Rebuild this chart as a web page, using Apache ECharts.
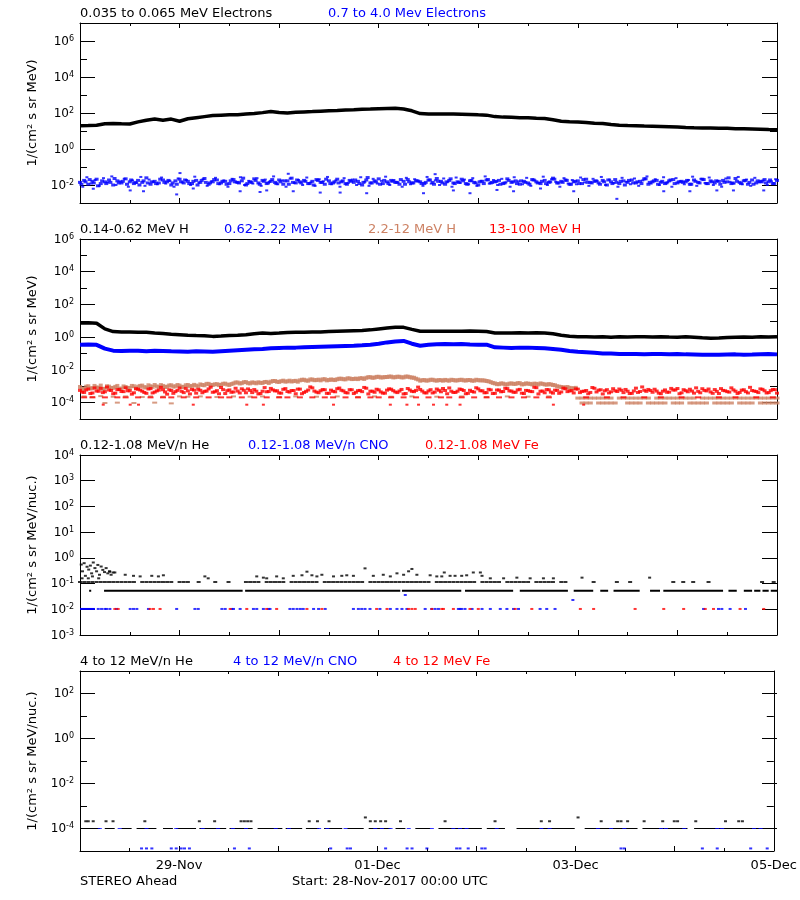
<!DOCTYPE html>
<html><head><meta charset="utf-8">
<script src="https://cdn.jsdelivr.net/npm/echarts@6/dist/echarts.min.js"></script>
<style>html,body{margin:0;padding:0;background:#fff}#c{width:800px;height:900px}</style>
</head><body><div id="c"></div>
<script>
// ---------- DATA (hours since 28-Nov-2017 00:00 UTC) ----------
const xTickLabels = {24:'29-Nov', 72:'01-Dec', 120:'03-Dec', 168:'05-Dec'};

// Panel 1: electrons (2-hourly low-energy band)
const elecLow2h = [19.5,20,21,25,26,25,24.5,32,40,46,40,46,35,48,55,63,72,76,79,81,87,93,105,120,107,100,110,115,120,126,132,138,145,151,162,166,174,178,182,166,132,93,89,87,89,87,85,83,79,76,63,59,58,55,54,51,49,42,35,33,32,30,27,26,23,21,20,19.5,19,18.6,18,17.4,16.6,15.8,15.1,14.8,14.5,14.1,14.1,13.5,13.2,12.9,12.6,12,11.7];
// 0.7-4.0 MeV electrons, hourly scatter
const elecHighA = [.014,.018,.011,.016,.021,.012,.015,.019,.010,.017,.013,.022,.015,.012,.018,.014,.025,.011,.016,.013,.019,.015,.010,.017,.021,.013,.016,.012,.018,.014,.023,.011,.015,.019,.013,.016,.012,.020,.014,.017,.010,.015,.022,.013,.018,.012,.016,.014,.019,.011,.017,.024,.013,.015,.018,.012,.016,.020,.014,.011,.017,.013,.021,.015,.012,.018,.014,.016,.010,.019,.013,.017,.022,.012,.015,.018,.014,.011,.016,.020,.013,.017,.015,.012,.019,.014,.023,.016,.011,.018,.013,.015,.021,.012,.017,.014,.010,.016,.019,.013,.015,.018,.012,.022,.014,.017,.011,.016,.013,.020,.015,.012,.018,.014,.024,.013,.016,.019,.011,.015,.017,.012,.021,.014,.016,.013,.018,.010,.015,.020,.012,.017,.014,.019,.013,.016,.022,.011,.015,.018,.014,.012,.017,.020,.013,.016,.015,.011,.019,.014,.021,.012,.017,.013,.016,.018,.015,.012,.023,.014,.017,.011,.019,.013,.016,.020,.015,.012,.018,.014];
const elecHighB = [.011,.015,.020,.013,.009,.017,.012,.014,.023,.013,.016,.011,.019,.014,.010,.017,.013,.015,.012,.021,.014,.018,.013,.011,.015,.019,.012,.016,.010,.018,.014,.013,.020,.012,.016,.011,.017,.015,.013,.024,.012,.014,.018,.011,.016,.013,.020,.012,.015,.017,.011,.014,.019,.013,.016,.012,.010,.018,.014,.021,.012,.015,.013,.017,.011,.016,.019,.012,.014,.026,.013,.015,.011,.018,.012,.016,.014,.020,.011,.015,.013,.017,.012,.014,.019,.011,.016,.013,.015,.022,.012,.014,.017,.011,.018,.013,.015,.012,.020,.014,.016,.011,.013,.018,.015,.012,.017,.014,.011,.019,.013,.016,.012,.015,.021,.013,.014,.018,.011,.016,.012,.020,.014,.013,.017,.011,.015,.019,.012,.014,.016,.010,.018,.013,.015,.012,.022,.014,.017,.011,.016,.013,.019,.012,.015,.014,.018,.011,.016,.013,.020,.012,.015,.017,.011,.014,.025,.013,.016,.012,.018,.014,.011,.017,.015,.013,.019,.012,.016];
const elecHighC = [.008,.027,.012,.019,.009,.024,.014,.030,.010,.016,.022,.008,.018,.013,.028,.009,.020,.015,.011,.026,.012,.017,.008,.023,.014,.019,.010,.029,.013,.021,.009,.016,.025,.011,.018,.008,.022,.014,.027,.010,.017,.012,.024,.009,.020,.015,.030,.011,.018,.008,.023,.013,.019,.010,.026,.014,.009,.021,.016,.028,.011,.018,.008,.024,.013,.020,.010,.027,.015,.009,.022,.012,.017,.029,.010,.019,.014,.008,.025,.011,.021,.016,.009,.028,.012,.018,.010,.023,.015,.008,.026,.013,.020,.011,.024,.009,.017,.030,.012,.019,.010,.022,.014,.008,.027,.016,.011,.025,.009,.018,.013,.029,.010,.021,.015,.008,.024,.012,.019,.011,.026,.014,.009,.022,.017,.028,.010,.020,.013,.008,.025,.015,.011,.023,.009,.018,.030,.012,.021,.010,.027,.014,.008,.024,.016,.011,.019,.029,.009,.022,.013,.026,.010,.017,.008,.023,.015,.012,.028,.011,.020,.009,.025,.014,.018,.010,.016,.021];
const elecHighOut = [[3.2,.0062],[12.1,.005],[15.3,.0045],[23.3,.003],[27.3,.0064],[38.6,.0045],[43.4,.0041],[45,.005],[51.4,.0045],[57.9,.0038],[62.7,.0038],[69.1,.0035],[82.8,.0035],[90,.005],[94,.0035],[100.5,.0053],[104.5,.0045],[111,.0064],[119,.0045],[129.4,.0017],[140.7,.0045],[147,.0045],[153.5,.005],[157.5,.005],[164.8,.005],[24.1,.046],[50.2,.042],[85.6,.04]];

// Panel 2: protons
const protLow2h = [7.4,7.6,7.1,3.2,2.2,2.1,2.1,2.0,2.0,1.8,1.66,1.5,1.4,1.3,1.26,1.23,1.12,1.17,1.26,1.3,1.4,1.6,1.8,1.7,1.8,1.95,2.0,2.0,2.1,2.1,2.2,2.3,2.4,2.5,2.6,2.8,3.2,3.6,4.0,4.0,3.0,2.3,2.3,2.3,2.3,2.3,2.3,2.35,2.3,2.2,1.8,1.8,1.8,1.85,1.8,1.85,1.8,1.6,1.3,1.15,1.07,1.05,1.02,1.05,1.0,1.05,1.02,1.07,1.05,1.02,1.05,1.02,1.0,1.05,1.0,0.93,0.87,0.89,0.95,1.0,1.02,1.0,1.05,1.02,1.07];
const protMid2h = [0.35,0.36,0.34,0.20,0.15,0.145,0.148,0.15,0.14,0.148,0.145,0.138,0.135,0.13,0.138,0.135,0.13,0.14,0.15,0.16,0.17,0.18,0.19,0.21,0.22,0.23,0.23,0.24,0.25,0.26,0.27,0.28,0.29,0.30,0.32,0.35,0.40,0.48,0.55,0.59,0.40,0.30,0.34,0.37,0.38,0.37,0.38,0.36,0.35,0.35,0.24,0.23,0.22,0.23,0.23,0.22,0.21,0.19,0.17,0.145,0.13,0.12,0.11,0.10,0.10,0.095,0.093,0.095,0.091,0.093,0.095,0.091,0.093,0.089,0.087,0.085,0.083,0.085,0.087,0.089,0.085,0.087,0.091,0.093,0.089];
// 2.2-12 MeV H band (hourly, h0-119)
const protBrownA = [0.9e-3,0.7e-3,1.0e-3,0.75e-3,0.85e-3,1.1e-3,0.7e-3,0.95e-3,0.8e-3,1.05e-3,0.72e-3,0.9e-3,0.78e-3,1.0e-3,0.95e-3,1.1e-3,0.85e-3,1.0e-3,1.2e-3,0.9e-3,1.05e-3,0.95e-3,1.15e-3,1.0e-3,1.1e-3,0.92e-3,1.2e-3,1.05e-3,1.1e-3,1.3e-3,1.15e-3,1.4e-3,1.2e-3,1.35e-3,1.25e-3,1.45e-3,1.2e-3,1.5e-3,1.7e-3,1.55e-3,1.8e-3,1.5e-3,1.65e-3,1.75e-3,1.6e-3,1.85e-3,1.9e-3,2.1e-3,1.85e-3,2.2e-3,2.0e-3,1.95e-3,2.15e-3,2.3e-3,2.5e-3,2.2e-3,2.6e-3,2.4e-3,2.3e-3,2.7e-3,2.45e-3,2.5e-3,2.7e-3,2.9e-3,2.65e-3,3.0e-3,2.8e-3,2.75e-3,3.1e-3,3.3e-3,3.6e-3,3.4e-3,3.8e-3,3.5e-3,3.7e-3,3.9e-3,3.6e-3,3.8e-3,3.5e-3,3.9e-3,3.4e-3,2.9e-3,2.2e-3,2.4e-3,2.3e-3,2.5e-3,2.2e-3,2.35e-3,2.45e-3,2.2e-3,2.4e-3,2.3e-3,2.5e-3,2.25e-3,2.4e-3,2.2e-3,2.35e-3,2.3e-3,2.1e-3,1.8e-3,1.5e-3,1.35e-3,1.45e-3,1.3e-3,1.5e-3,1.4e-3,1.55e-3,1.35e-3,1.45e-3,1.3e-3,1.4e-3,1.5e-3,1.3e-3,1.35e-3,1.2e-3,1.0e-3,0.9e-3,0.85e-3,0.8e-3,0.75e-3];
const protBrownB = [0.7e-3,0.95e-3,0.75e-3,1.05e-3,0.8e-3,0.68e-3,1.0e-3,0.78e-3,0.92e-3,0.7e-3,0.98e-3,0.8e-3,1.05e-3,0.75e-3,1.05e-3,0.88e-3,1.15e-3,0.92e-3,0.98e-3,1.18e-3,0.9e-3,1.12e-3,0.95e-3,1.2e-3,0.92e-3,1.15e-3,1.0e-3,1.22e-3,0.98e-3,1.2e-3,1.4e-3,1.22e-3,1.32e-3,1.18e-3,1.42e-3,1.28e-3,1.38e-3,1.7e-3,1.48e-3,1.78e-3,1.55e-3,1.72e-3,1.52e-3,1.62e-3,1.82e-3,1.58e-3,2.1e-3,1.88e-3,2.05e-3,1.92e-3,2.2e-3,2.08e-3,1.9e-3,2.5e-3,2.25e-3,2.6e-3,2.35e-3,2.55e-3,2.65e-3,2.3e-3,2.6e-3,2.4e-3,2.9e-3,2.7e-3,3.05e-3,2.75e-3,2.95e-3,3.1e-3,2.8e-3,3.6e-3,3.3e-3,3.75e-3,3.45e-3,3.65e-3,3.9e-3,3.5e-3,3.85e-3,3.5e-3,3.9e-3,3.6e-3,3.3e-3,2.6e-3,2.35e-3,2.2e-3,2.5e-3,2.3e-3,2.4e-3,2.2e-3,2.3e-3,2.5e-3,2.25e-3,2.45e-3,2.3e-3,2.4e-3,2.2e-3,2.5e-3,2.3e-3,2.25e-3,2.0e-3,1.6e-3,1.35e-3,1.5e-3,1.3e-3,1.45e-3,1.4e-3,1.55e-3,1.3e-3,1.5e-3,1.4e-3,1.45e-3,1.3e-3,1.4e-3,1.25e-3,1.3e-3,1.15e-3,0.95e-3,0.85e-3,0.9e-3,0.75e-3,0.8e-3];
const protBrownLate1Hours = [120,121,122,123,124,125,126,127,128,130,131,132,133,134,135,136,137,139,140,141,142,143,144,145,146,147,148,150,151,152,153,154,155,156,157,158,159,160,161,162,163,164,165,166,167,168];
const protBrownLate2Hours = [121,122,123,125,126,127,128,129,132,133,134,135,137,138,139,140,141,143,144,145,147,148,149,150,151,153,154,155,156,157,159,160,161,162,164,165,166,167,168];
const protBrownLow = [[1,2.4e-4],[3,2.2e-4],[5,2.5e-4],[6,9.5e-5],[8,2.3e-4],[9,1e-4],[11,2.4e-4],[13,9.5e-5],[15,2.2e-4],[17,2.4e-4],[18,1e-4],[20,2.3e-4],[22,9e-5],[24,2.4e-4],[26,2.3e-4],[29,2.4e-4],[33,2.2e-4],[37,2.4e-4],[41,2.3e-4],[44,2.4e-4],[48,2.2e-4],[52,2.4e-4],[57,2.3e-4],[62,2.4e-4],[67,2.2e-4],[71,2.4e-4],[75,2.3e-4],[80,2.4e-4],[86,2.3e-4],[92,2.4e-4],[98,2.2e-4],[103,2.4e-4],[108,2.3e-4],[113,2.4e-4]];
// 13-100 MeV H (hourly scatter)
const protRedA = [5.6e-4,4.2e-4,6.8e-4,3.9e-4,5.1e-4,7.5e-4,4.6e-4,5.9e-4,3.5e-4,6.2e-4,4.8e-4,8.1e-4,5.3e-4,4.0e-4,6.6e-4,5.0e-4,3.7e-4,7.2e-4,4.4e-4,5.8e-4,6.1e-4,3.3e-4,5.5e-4,4.7e-4,7.8e-4,4.1e-4,5.2e-4,6.4e-4,3.8e-4,5.7e-4,4.9e-4,6.9e-4,4.3e-4,5.4e-4,8.4e-4,3.6e-4,6.0e-4,4.5e-4,5.1e-4,7.0e-4,4.0e-4,5.6e-4,6.3e-4,3.4e-4,5.0e-4,4.6e-4,7.4e-4,5.2e-4,3.9e-4,6.5e-4,4.8e-4,5.5e-4,3.5e-4,6.7e-4,4.2e-4,5.9e-4,8.0e-4,4.4e-4,5.3e-4,6.1e-4,3.7e-4,4.9e-4,7.1e-4,5.7e-4,4.1e-4,6.2e-4,3.6e-4,5.4e-4,4.7e-4,7.6e-4,5.0e-4,4.3e-4,6.0e-4,3.8e-4,5.8e-4,6.6e-4,4.5e-4,5.1e-4,3.4e-4,7.3e-4,4.9e-4,5.6e-4,6.4e-4,4.0e-4,5.2e-4,3.9e-4,6.8e-4,4.6e-4,5.5e-4,7.9e-4,4.2e-4,5.0e-4,6.3e-4,3.5e-4,5.7e-4,4.4e-4,6.9e-4,5.3e-4,4.1e-4,6.0e-4,3.7e-4,5.9e-4,4.8e-4,7.2e-4,5.1e-4,4.3e-4,6.5e-4,3.6e-4,5.4e-4,4.7e-4,8.2e-4,5.0e-4,4.0e-4,6.1e-4,3.8e-4,5.6e-4,4.5e-4,7.0e-4,5.2e-4,3.9e-4,6.7e-4,4.9e-4,5.5e-4,4.2e-4,7.5e-4,5.8e-4,3.4e-4,6.2e-4,4.6e-4,5.3e-4,6.8e-4,4.1e-4,5.0e-4,3.7e-4,7.7e-4,4.8e-4,5.7e-4,6.4e-4,4.3e-4,5.1e-4,3.5e-4,6.0e-4,4.4e-4,5.9e-4,7.3e-4,4.0e-4,5.4e-4,6.6e-4,3.8e-4,4.9e-4,7.1e-4,5.2e-4,4.5e-4,6.3e-4,3.6e-4,5.6e-4,4.7e-4,8.0e-4,5.0e-4,4.2e-4,6.1e-4,3.9e-4,5.5e-4,4.8e-4,6.9e-4,5.3e-4,4.1e-4,6.4e-4,3.8e-4];
const protRedB = [4.4e-4,6.0e-4,3.6e-4,7.9e-4,5.0e-4,4.1e-4,9.0e-4,5.5e-4,3.8e-4,6.4e-4,4.7e-4,5.3e-4,3.3e-4,7.1e-4,5.9e-4,4.2e-4,6.8e-4,3.9e-4,5.2e-4,8.6e-4,4.5e-4,6.1e-4,3.7e-4,5.6e-4,4.9e-4,7.4e-4,3.4e-4,5.8e-4,6.5e-4,4.0e-4,5.1e-4,8.8e-4,4.6e-4,3.5e-4,6.2e-4,5.4e-4,4.3e-4,7.6e-4,3.9e-4,5.7e-4,6.9e-4,4.1e-4,5.0e-4,3.6e-4,8.3e-4,4.8e-4,6.0e-4,5.3e-4,3.8e-4,7.2e-4,4.4e-4,5.5e-4,6.7e-4,3.5e-4,4.9e-4,9.2e-4,5.1e-4,4.0e-4,6.3e-4,3.7e-4,5.8e-4,4.6e-4,7.8e-4,5.2e-4,3.9e-4,6.1e-4,4.3e-4,5.6e-4,8.5e-4,3.4e-4,5.0e-4,6.6e-4,4.5e-4,3.8e-4,7.0e-4,5.4e-4,4.1e-4,6.4e-4,3.6e-4,5.9e-4,4.7e-4,8.9e-4,5.1e-4,3.9e-4,6.2e-4,4.4e-4,5.7e-4,7.3e-4,3.5e-4,5.0e-4,4.2e-4,6.8e-4,5.5e-4,3.7e-4,4.8e-4,8.1e-4,5.3e-4,4.0e-4,6.5e-4,3.6e-4,5.9e-4,4.6e-4,7.5e-4,5.2e-4,4.3e-4,6.0e-4,3.8e-4,5.6e-4,4.9e-4,8.7e-4,3.4e-4,5.1e-4,6.3e-4,4.4e-4,5.8e-4,3.7e-4,7.7e-4,4.7e-4,5.4e-4,6.9e-4,4.1e-4,5.0e-4,3.5e-4,8.4e-4,4.5e-4,6.1e-4,5.3e-4,3.9e-4,7.1e-4,4.8e-4,5.7e-4,6.4e-4,3.6e-4,5.2e-4,4.2e-4,9.1e-4,4.9e-4,5.5e-4,6.6e-4,3.8e-4,5.0e-4,4.3e-4,7.4e-4,5.9e-4,3.5e-4,6.2e-4,4.6e-4,5.1e-4,8.0e-4,4.0e-4,5.6e-4,6.8e-4,3.7e-4,4.9e-4,7.2e-4,5.3e-4,4.4e-4,6.0e-4,3.6e-4,5.8e-4,4.7e-4,8.6e-4,5.1e-4,4.1e-4,6.5e-4,3.9e-4,5.4e-4,6.2e-4,4.5e-4];
const protRedDashHours = [1,3,6,9,11,14,17,20,22,25,28,31,34,36,39,42,45,48,50,53,56,59,61,64,67,70,72,75,78,81,84,87,89,92,95,98,101,104,107,110,113,122,127,131,136,140,145,149,154,158,163,167];
const protRedSparseHours = [5.6,12.1,14.1,27.3,40.2,44.2,61.1,74.8,78.8,81.6,85.2,88.4,91.6,114.1,121.4];

// Panel 3: 0.12-1.08 MeV/n ions
const heLowSegments = [[2.2,2.7],[5.8,39.2],[39.8,77.2],[77.6,91.9],[92.8,104.4],[106,117.6],[119,123.7],[125.4,127.3],[128.6,134.9],[137.4,139.8],[140.6,155],[156.3,158.3],[160,162],[162.5,164],[164.5,166],[166.5,168]];
const heMidHours = [0,1,2,3,4,5,6,7,8,9,10,11,12,13,15,16,17,18,19,20,21,22,24,25,26,28.6,32.6,35.8,40,41,42,43,45,46,47,48,49,51,52,53,54,55,56,57,59,60,61,62,63,64,65,66,67,68,70,71,72,73,74,75,76,77,78,79,80,81,82,83,84,86,87,88,89,90,91,92,93,94,95,97,98,99,100,101,103,104,105,106,107,108,110,111,112,113,114,116,117,123.8,129.4,132.6,143,145.4,147.8,151.5,164.4,167.2];
const heUpper = [[0.3,0.55],[0.6,0.3],[1.0,0.62],[1.3,0.2],[1.7,0.45],[2.1,0.35],[2.5,0.5],[2.8,0.25],[3.2,0.66],[3.6,0.4],[4.0,0.3],[4.3,0.53],[4.7,0.22],[5.1,0.46],[5.5,0.34],[5.9,0.28],[6.3,0.4],[6.7,0.25],[7.1,0.3],[7.5,0.22],[8.0,0.27],[0.5,0.16],[2.0,0.16],[3.0,0.19],[4.5,0.16],
 [7.2,0.29],[8.4,0.27],[10.9,0.22],[12.9,0.2],[14.5,0.19],[17.3,0.2],[18.9,0.19],[20.1,0.21],[30.1,0.19],[30.9,0.16],[42.6,0.19],[44.2,0.17],[45,0.16],[47.4,0.19],[49,0.16],[51.4,0.2],[53.5,0.21],[54.7,0.29],[55.9,0.21],[57.1,0.19],[58.3,0.22],[61.1,0.19],[63.1,0.2],[64.3,0.21],[65.9,0.2],[68.7,0.39],[70.7,0.2],[73.1,0.22],[74.8,0.19],[76.4,0.25],
 [78,0.22],[79.2,0.3],[80,0.37],[81.2,0.22],[84.4,0.21],[86,0.19],[87.2,0.19],[87.8,0.27],[89.2,0.2],[90.4,0.2],[92,0.2],[93.2,0.21],[94.8,0.27],[96.5,0.27],[96.9,0.2],[98.9,0.16],[102.1,0.16],[105.3,0.17],[108.5,0.16],[111.7,0.16],[114.1,0.16],[121,0.17],[137.3,0.17]];
const cnoLowHours = [4.4,5.2,6.0,6.4,7.2,8.8,12.1,12.9,13.7,16.5,23.3,27.7,28.5,34.2,35.0,36.6,37.0,38.6,41.8,42.6,44.2,45.4,45.8,50.6,51.4,52.3,53.1,53.8,56.3,57.5,59.1,65.9,67.1,67.9,68.7,69.9,72.3,74.8,76.4,77.6,78.8,83.2,84.8,85.6,86.4,91.2,91.6,92.0,92.8,94.5,96.9,98.9,101.3,102.9,104.5,105.7,110.9,112.5,114.5,150.3,153.9,154.7,156.7,160.4];
const cnoLowSegment = [[0,3.6]];
const cnoLowOut = [[118.8,0.023],[78.4,0.036]];
const feLowHours = [8.4,9.2,16.9,17.7,19.3,36.2,40.2,45.0,47.4,54.7,58.3,71.5,74.0,79.2,80.0,80.8,84.8,87.2,87.6,90.0,94.0,96.0,104.9,108.9,120.6,123.8,133.8,140.7,145.5,150.7,152.7,159.1,164.8];

// Panel 4: 4-12 MeV/n ions
const heHighSegments = [[1.8,4.8],[6.0,8.4],[10.0,12.5],[13.7,18.5],[20.1,22.5],[23.3,28.1],[28.9,35.4],[36.2,41.8],[43.0,49.0],[49.8,53.8],[54.7,57.9],[59.1,63.5],[64.7,68.7],[69.9,75.2],[76.4,78.8],[81.2,84.8],[86.8,97.3],[98.5,102.9],[105.7,119.8],[122.2,135],[136.2,147.1],[148.7,166.4]];
const heHighDots = [[1.4,2.1e-4],[2.0,2.1e-4],[3.2,2.1e-4],[6.3,2.1e-4],[8.0,2.1e-4],[15.7,2.1e-4],[28.9,2.1e-4],[32.6,2.1e-4],[39.0,2.1e-4],[39.8,2.1e-4],[40.6,2.1e-4],[41.4,2.1e-4],[55.5,2.1e-4],[57.5,2.1e-4],[60.3,2.1e-4],[69.1,3.1e-4],[70.3,2.1e-4],[71.5,2.1e-4],[72.8,2.1e-4],[74.0,2.1e-4],[77.6,2.1e-4],[88.4,2.1e-4],[100.5,2.1e-4],[111.7,2.1e-4],[113.7,2.1e-4],[120.6,3.1e-4],[126.2,2.1e-4],[130.2,2.1e-4],[131.0,2.1e-4],[132.6,2.1e-4],[136.6,2.1e-4],[141.1,2.1e-4],[143.9,2.1e-4],[144.7,2.1e-4],[149.1,2.1e-4],[156.3,2.1e-4],[159.5,2.1e-4],[160.4,2.1e-4]];
const cnoHighOnLineHours = [4.8,9.6,16.1,23.3,29.7,33.4,37.0,40.2,47.4,50.6,57.9,59.9,64.3,71.5,73.1,75.2,79.6,85.2,90.4,92.0,93.6,100.9,111.7,113.7,125.4,128.6,131.8,140.7,141.9,146.3,154.3,155.5,163.2,164.8];
const cnoHighLowHours = [14.9,16.1,17.4,22.1,23.3,24.5,25.3,26.5,37.4,41.0,60.7,64.7,65.5,74.0,79.2,80.4,84.0,91.2,92.0,94.0,97.3,98.1,131.0,131.8,150.7,154.3,162.4,166.4];

// ---------- CHART ----------
const FONT = 'DejaVu Sans';
const BLUE = '#0000ff', RED = '#ff0000', BROWN = '#cd8264', BLACK = '#000000';
const TOPS = [23, 239, 455, 671], PH = 180, LEFT = 80, RIGHT = 23;
const panels = [
  {min:-3, max:7, all:false, name:'1/(cm² s sr MeV)'},
  {min:-5, max:6, all:false, name:'1/(cm² s sr MeV)'},
  {min:-3, max:4, all:true,  name:'1/(cm² s sr MeV/nuc.)'},
  {min:-5, max:3, all:false, name:'1/(cm² s sr MeV/nuc.)'}
];
const RICH = {
  b:{fontSize:12, fontFamily:FONT, color:'#000', verticalAlign:'bottom'},
  s:{fontSize:8, fontFamily:FONT, color:'#000', verticalAlign:'top', padding:[0,0,5,0]}
};
const expLabel = v => (Math.round(v) !== v) ? '' : '{b|10}{s|' + v + '}';
const lg = Math.log10;

const grid = [], xAxis = [], yAxis = [];
function xAx(gi, pos, labels) {
  return {gridIndex:gi, type:'value', position:pos, min:0, max:168, interval:24,
    axisLine:{show:true, onZero:false, lineStyle:{color:'#000', width:1}},
    axisTick:{show:true, inside:true, length:5, lineStyle:{color:'#000'}},
    minorTick:{show:true, splitNumber:2, length:3, lineStyle:{color:'#000'}},
    splitLine:{show:false}, minorSplitLine:{show:false},
    axisLabel:{show:labels, formatter:v => xTickLabels[v] || '', color:'#000', fontFamily:FONT, fontSize:13, margin:8, showMinLabel:true, showMaxLabel:true}};
}
function yMain(gi, pos, p, labels) {
  return {gridIndex:gi, type:'value', position:pos, min:p.min, max:p.max, interval:1,
    axisLine:{show:true, onZero:false, lineStyle:{color:'#000', width:1}},
    axisTick:{show:true, inside:true, length:p.all ? 15 : 7, lineStyle:{color:'#000'}},
    splitLine:{show:false},
    axisLabel:{show:labels, formatter:expLabel, rich:RICH, margin:6, showMinLabel:true, showMaxLabel:true},
    name: pos === 'left' ? p.name : '', nameLocation:'middle', nameGap:41, nameRotate:90,
    nameTextStyle:{color:'#000', fontFamily:FONT, fontSize:13}};
}
panels.forEach((p, i) => {
  grid.push({left:LEFT, right:RIGHT, top:TOPS[i], height:PH});
  const gi = grid.length - 1;
  p.xi = xAxis.length; xAxis.push(xAx(gi, 'bottom', i === 3)); xAxis.push(xAx(gi, 'top', false));
  p.yi = yAxis.length; yAxis.push(yMain(gi, 'left', p, p.all)); yAxis.push(yMain(gi, 'right', p, false));
});
panels.forEach((p, i) => {
  if (p.all) return;
  const d = PH / (p.max - p.min);
  const hi = Math.floor(p.max / 2) * 2, lo = Math.ceil(p.min / 2) * 2;
  grid.push({left:LEFT, right:RIGHT, top:TOPS[i] + (p.max - hi) * d, height:(hi - lo) * d});
  const gi = grid.length - 1;
  xAxis.push({gridIndex:gi, type:'value', min:0, max:168, show:false});
  ['left','right'].forEach(pos => yAxis.push({gridIndex:gi, type:'value', position:pos, min:lo, max:hi, interval:2,
    axisLine:{show:false}, splitLine:{show:false},
    axisTick:{show:true, inside:true, length:15, lineStyle:{color:'#000'}},
    axisLabel:{show:pos === 'left', formatter:expLabel, rich:RICH, margin:6, showMinLabel:true, showMaxLabel:true}}));
});

// helpers that map data arrays to [hour, log10(value)]
const every = (arr, step, off) => arr.slice(0, Math.floor((168 - off) / step) + 1).map((v, i) => [off + i * step, lg(v)]);
const atLevel = (hours, v) => hours.map(h => [h, lg(v)]);
const pairs = list => list.map(([h, v]) => [h, lg(v)]);
const segs = (list, v) => { const out = []; list.forEach(([a, b]) => { out.push([a, lg(v)], [b, lg(v)], ['-', '-']); }); return out; };

const series = [];
function line(p, data, color, width) {
  series.push({type:'line', xAxisIndex:p.xi, yAxisIndex:p.yi, data, showSymbol:false, symbol:'none',
    lineStyle:{color, width}, itemStyle:{color}, connectNulls:false, silent:true, animation:false, z:3});
}
function dots(p, data, color, size, z) {
  series.push({type:'scatter', xAxisIndex:p.xi, yAxisIndex:p.yi, data, symbol:'rect', symbolSize:size,
    itemStyle:{color}, silent:true, animation:false, z:z || 3});
}
const [P1, P2, P3, P4] = panels;
// Panel 1
dots(P1, every(elecHighA, 1, 0), BLUE, [4,3]);
dots(P1, every(elecHighB, 1, 0.33), BLUE, [4,3]);
dots(P1, every(elecHighC, 1, 0.66), BLUE, [3,2]);
dots(P1, pairs(elecHighOut), BLUE, [3,2]);
line(P1, every(elecLow2h, 2, 0), BLACK, 3.5);
// Panel 2
dots(P2, every(protBrownA, 1, 0), BROWN, [4,4]);
dots(P2, every(protBrownB, 1, 0.5), BROWN, [4,4]);
dots(P2, atLevel(protBrownLate1Hours, 1.9e-4), BROWN, [5,3]);
dots(P2, atLevel(protBrownLate2Hours, 0.95e-4), BROWN, [5,3]);
dots(P2, pairs(protBrownLow), BROWN, [5,2]);
dots(P2, every(protRedA, 1, 0), RED, [4,3], 4);
dots(P2, every(protRedB, 1, 0.5), RED, [4,3], 4);
dots(P2, atLevel(protRedDashHours, 2.1e-4), RED, [6,2], 4);
dots(P2, atLevel(protRedSparseHours, 7.5e-5), RED, [3,2], 4);
line(P2, every(protMid2h, 2, 0), BLUE, 4);
line(P2, every(protLow2h, 2, 0), BLACK, 3.5);
// Panel 3
line(P3, segs(heLowSegments, 0.052), BLACK, 2);
dots(P3, atLevel(heMidHours, 0.115), BLACK, [4,2]);
dots(P3, pairs(heUpper), BLACK, [3,2]);
line(P3, segs(cnoLowSegment, 0.0103), BLUE, 2);
dots(P3, atLevel(cnoLowHours, 0.0103), BLUE, [3,2]);
dots(P3, pairs(cnoLowOut), BLUE, [3,2]);
dots(P3, atLevel(feLowHours, 0.0103), RED, [3,2]);
// Panel 4
line(P4, segs(heHighSegments, 1e-4), BLACK, 1);
dots(P4, atLevel(cnoHighOnLineHours, 1e-4), BLUE, [4,1], 4);
dots(P4, pairs(heHighDots), BLACK, [3,2]);
dots(P4, atLevel(cnoHighLowHours, 1.3e-5), BLUE, [3,2]);

// titles (series names)
const titleRows = [
  [[80,'0.035 to 0.065 MeV Electrons',BLACK],[328,'0.7 to 4.0 Mev Electrons',BLUE]],
  [[80,'0.14-0.62 MeV H',BLACK],[224,'0.62-2.22 MeV H',BLUE],[368,'2.2-12 MeV H',BROWN],[489,'13-100 MeV H',RED]],
  [[80,'0.12-1.08 MeV/n He',BLACK],[248,'0.12-1.08 MeV/n CNO',BLUE],[425,'0.12-1.08 MeV Fe',RED]],
  [[80,'4 to 12 MeV/n He',BLACK],[233,'4 to 12 MeV/n CNO',BLUE],[393,'4 to 12 MeV Fe',RED]]
];
const graphic = [];
titleRows.forEach((row, i) => row.forEach(([x, t, c]) => graphic.push({type:'text', left:x, top:TOPS[i] - 16,
  style:{text:t, fill:c, font:'13px ' + FONT}})));
graphic.push({type:'text', left:80, top:875, style:{text:'STEREO Ahead', fill:'#000', font:'13px ' + FONT}});
graphic.push({type:'text', left:292, top:875, style:{text:'Start: 28-Nov-2017 00:00 UTC', fill:'#000', font:'13px ' + FONT}});

const chart = echarts.init(document.getElementById('c'), null, {renderer:'canvas'});
chart.setOption({animation:false, backgroundColor:'#fff', textStyle:{fontFamily:FONT}, grid, xAxis, yAxis, series, graphic});
</script></body></html>
